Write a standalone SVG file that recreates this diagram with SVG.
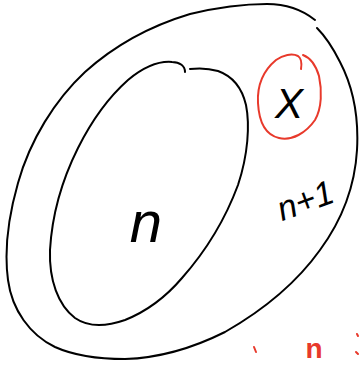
<svg xmlns="http://www.w3.org/2000/svg" width="360" height="367" viewBox="0 0 360 367">
<style>
.ink{fill:none;stroke:#000;stroke-width:2;stroke-linecap:round;stroke-linejoin:round}
.red{fill:none;stroke:#e8392b;stroke-width:2;stroke-linecap:round;stroke-linejoin:round}
.hand{font-family:"Liberation Sans","DejaVu Sans",sans-serif;font-style:italic;fill:#000}
.redt{font-family:"Liberation Sans","DejaVu Sans",sans-serif;font-weight:bold;fill:#e8392b}
</style>
<rect width="360" height="367" fill="#fff"/>
<g id="outer">
<path class="ink" d="M315,20 C300,8 285,4 267,4 C240,4 215,8 190,14 C150,26 115,45 85,72 C55,100 30,140 18,183 C8,218 4,250 8,280 C12,310 30,335 55,347 C75,356 100,359 125,359 C160,358 195,347 225,332 C260,312 295,285 320,250 C342,220 355,185 357,150 C359,115 352,85 340,62 C333,48 326,37 317,28"/>
</g>
<g id="inner">
<path class="ink" d="M185,72 C185,66 180,62 172,62 C160,61 145,66 128,80 C110,96 92,120 78,148 C62,180 52,215 50,250 C49,280 58,305 75,318 C88,327 105,327 125,320 C145,312 165,298 182,278 C205,252 225,220 238,185 C248,155 250,125 246,105 C242,88 232,76 218,71 C208,68 198,68 190,69"/>
<text class="hand" x="146" y="242" font-size="58" text-anchor="middle">n</text>
</g>
<g id="x-node">
<path class="red" d="M301,69 C302,63 301,58 298,56 C292,53 283,55 276,60 C264,70 257,85 258,103 C259,122 266,135 279,138 C292,141 306,133 315,120 C322,108 322,90 319,76 C316,66 311,58 303,55"/>
<text class="hand" x="289" y="118" font-size="42" text-anchor="middle">X</text>
</g>
<g id="label-n1">
<text class="hand" x="305" y="212" font-size="34" text-anchor="middle" transform="rotate(-20 305 200)">n+1</text>
</g>
<g id="bottom-red">
<path class="red" d="M254,347 L256,352" stroke-width="2.5"/>
<text class="redt" x="314" y="358" font-size="28" text-anchor="middle">n</text>
<path class="red" d="M357,334 L358,336 M356,352 L358,354" stroke-width="2.5"/>
</g>
<g id="connectors"/>
</svg>
